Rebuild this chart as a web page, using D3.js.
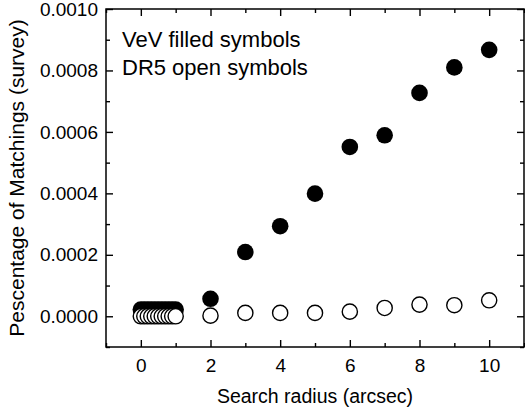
<!DOCTYPE html>
<html>
<head>
<meta charset="utf-8">
<script src="https://cdn.jsdelivr.net/npm/d3@7"></script>
<style>
  body { margin: 0; background: #fff; }
  svg text { font-family: "Liberation Sans", Arial, Helvetica, sans-serif; fill: #000; }
</style>
</head>
<body>
<div id="chart"></div>
<script>
// search radius (arcsec)
const radius = [0, 0.1, 0.2, 0.3, 0.4, 0.5, 0.6, 0.7, 0.8, 0.9, 1.0, 2, 3, 4, 5, 6, 7, 8, 9, 10];
// VeV (filled symbols)
const vev = [0.000022, 0.000022, 0.000022, 0.000022, 0.000022, 0.000022, 0.000022, 0.000022, 0.000022, 0.000022, 0.000022,
             0.000057, 0.000209, 0.000293, 0.000399, 0.000551, 0.000589, 0.000727, 0.000810, 0.000867];
// DR5 (open symbols)
const dr5 = [0, 0, 0, 0, 0, 0, 0, 0, 0, 0, 0,
             0.000002, 0.000011, 0.000011, 0.000011, 0.000015, 0.000027, 0.000038, 0.000036, 0.000052];
const xTicks = [0, 2, 4, 6, 8, 10];
const yTicks = [0, 0.0002, 0.0004, 0.0006, 0.0008, 0.0010];
const legendLines = ["VeV filled symbols", "DR5 open symbols"];

const W = 525, H = 408;
const margin = { top: 9, right: 1, bottom: 61, left: 106 };
const width = W - margin.left - margin.right,
      height = H - margin.top - margin.bottom;

const svg = d3.select("#chart").append("svg")
    .attr("width", W)
    .attr("height", H);

const g = svg.append("g")
    .attr("transform", `translate(${margin.left},${margin.top})`);

const x = d3.scaleLinear().domain([-1, 11]).range([0, width]);
const y = d3.scaleLinear().domain([-0.0001, 0.001]).range([height, 0]);

const xMinor = d3.range(-1, 12, 1).filter(v => !xTicks.includes(v));
const yMinor = d3.range(-1, 11, 1).map(v => v * 0.0001).filter(v => !yTicks.some(t => Math.abs(t - v) < 1e-9));

function styleAxis(sel) {
    sel.select(".domain").remove();
    sel.selectAll("line").attr("stroke", "#000").attr("stroke-width", 1.4);
}

// bottom axis (major with labels, ticks inward)
g.append("g")
    .attr("transform", `translate(0,${height})`)
    .call(d3.axisBottom(x).tickValues(xTicks).tickSize(-7).tickPadding(12).tickFormat(d3.format("d")))
    .call(styleAxis)
    .selectAll("text").style("font-size", "19px");
g.append("g")
    .attr("transform", `translate(0,${height})`)
    .call(d3.axisBottom(x).tickValues(xMinor).tickSize(-4).tickFormat(""))
    .call(styleAxis);
// top axis
g.append("g")
    .call(d3.axisTop(x).tickValues(xTicks).tickSize(-7).tickFormat(""))
    .call(styleAxis);
g.append("g")
    .call(d3.axisTop(x).tickValues(xMinor).tickSize(-4).tickFormat(""))
    .call(styleAxis);

// left axis
g.append("g")
    .call(d3.axisLeft(y).tickValues(yTicks).tickSize(-7).tickPadding(8).tickFormat(d3.format(".4f")))
    .call(styleAxis)
    .selectAll("text").style("font-size", "19px");
g.append("g")
    .call(d3.axisLeft(y).tickValues(yMinor).tickSize(-4).tickFormat(""))
    .call(styleAxis);
// right axis
g.append("g")
    .attr("transform", `translate(${width},0)`)
    .call(d3.axisRight(y).tickValues(yTicks).tickSize(-7).tickFormat(""))
    .call(styleAxis);
g.append("g")
    .attr("transform", `translate(${width},0)`)
    .call(d3.axisRight(y).tickValues(yMinor).tickSize(-4).tickFormat(""))
    .call(styleAxis);

// frame
g.append("rect")
    .attr("width", width)
    .attr("height", height)
    .attr("fill", "none")
    .attr("stroke", "#000")
    .attr("stroke-width", 1.5);

// VeV filled
g.selectAll(".vev")
    .data(radius.map((r, i) => ({ r, v: vev[i] })))
    .enter().append("circle")
    .attr("class", "vev")
    .attr("cx", d => x(d.r))
    .attr("cy", d => y(d.v))
    .attr("r", 8.3)
    .attr("fill", "#000");

// DR5 open
g.selectAll(".dr5")
    .data(radius.map((r, i) => ({ r, v: dr5[i] })))
    .enter().append("circle")
    .attr("class", "dr5")
    .attr("cx", d => x(d.r))
    .attr("cy", d => y(d.v))
    .attr("r", 7.6)
    .attr("fill", "#fff")
    .attr("stroke", "#000")
    .attr("stroke-width", 1.4);

// legend text
g.selectAll(".legend")
    .data(legendLines)
    .enter().append("text")
    .attr("class", "legend")
    .attr("x", 16)
    .attr("y", (d, i) => 38 + i * 27.5)
    .style("font-size", "22px")
    .text(d => d);

// axis titles
svg.append("text")
    .attr("x", margin.left + width / 2)
    .attr("y", 403)
    .attr("text-anchor", "middle")
    .style("font-size", "19.5px")
    .text("Search radius (arcsec)");

svg.append("text")
    .attr("transform", `translate(24,${margin.top + height / 2}) rotate(-90)`)
    .attr("text-anchor", "middle")
    .style("font-size", "21px")
    .text("Pescentage of Matchings (survey)");
</script>
</body>
</html>
